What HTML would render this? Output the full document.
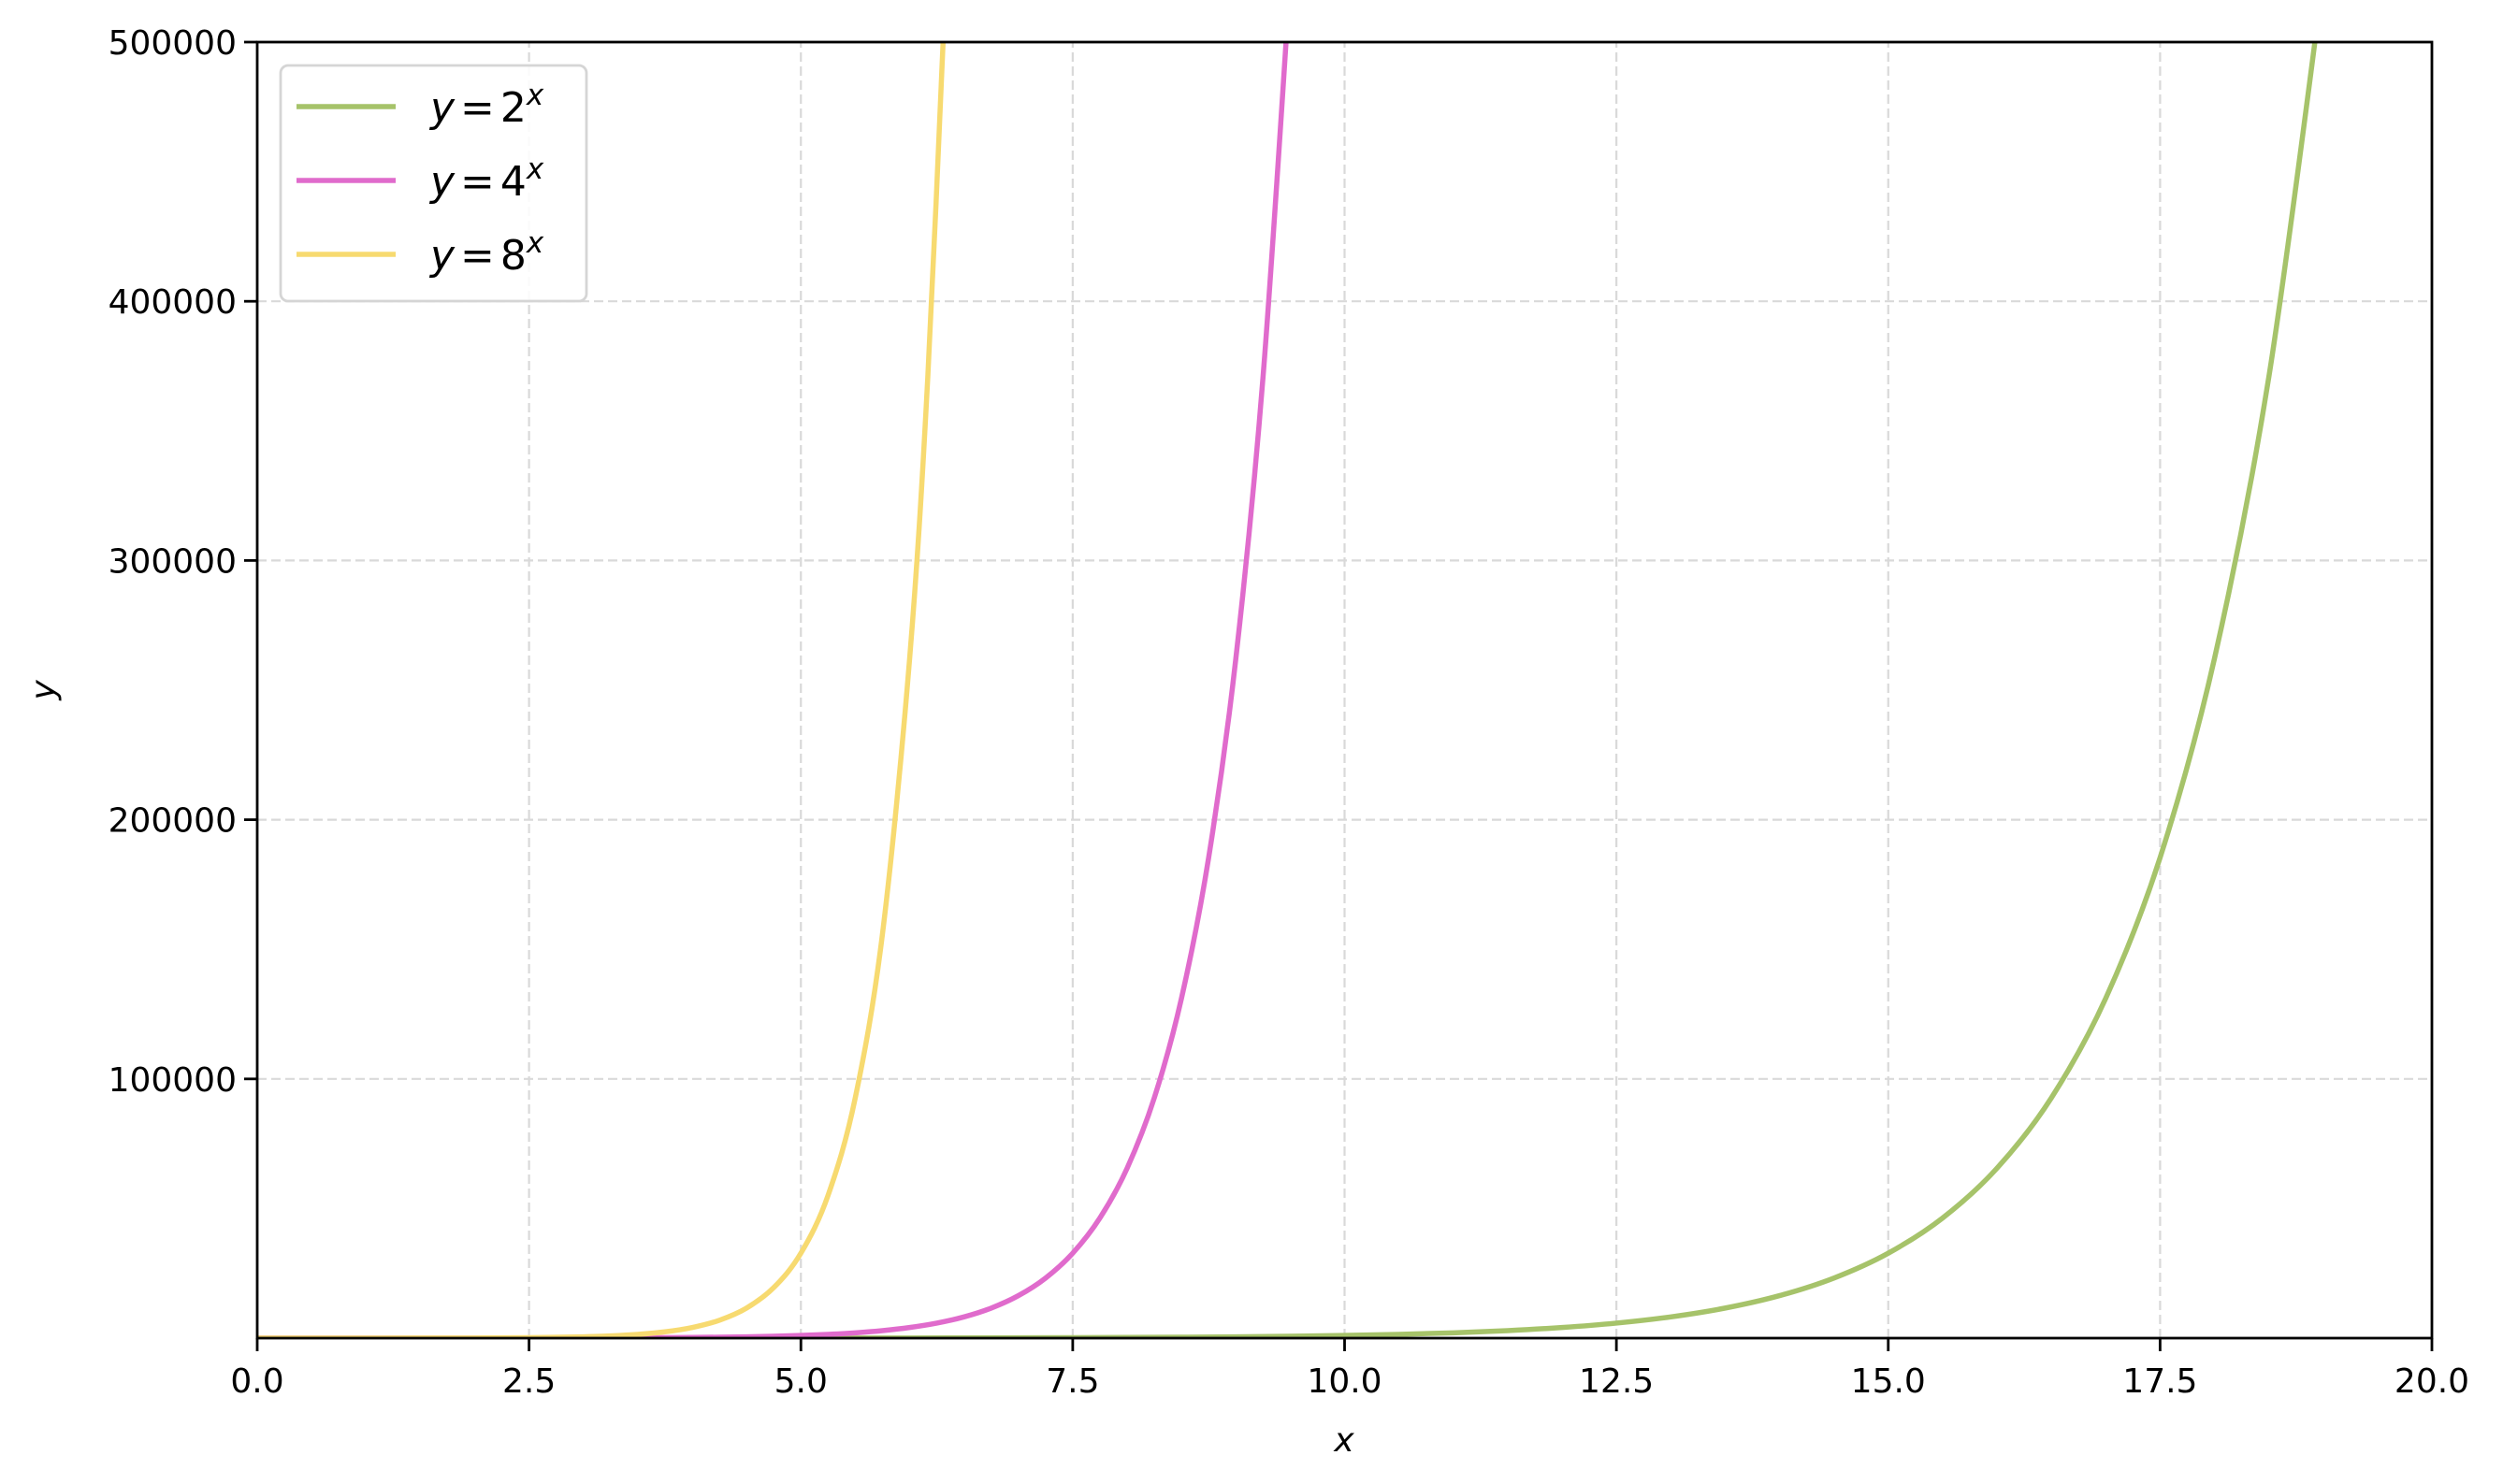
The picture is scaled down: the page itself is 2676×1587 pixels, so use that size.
<!DOCTYPE html>
<html><head><meta charset="utf-8"><style>
html,body{margin:0;padding:0;background:#fff;}
svg{display:block;font-family:"DejaVu Sans","Liberation Sans",sans-serif;}
</style></head><body>
<svg id="chart" width="2676" height="1587" viewBox="0 0 2676 1587" xmlns="http://www.w3.org/2000/svg">
<defs><clipPath id="plotclip"><rect x="275" y="45" width="2325" height="1386"/></clipPath></defs>
<g id="grid"></g>
<g id="series" clip-path="url(#plotclip)"></g>
<rect x="275" y="45" width="2325" height="1386" fill="none" stroke="#000" stroke-width="2.8"/>
<g id="ticks"></g>
<text x="1437" y="1552" font-size="36" font-style="italic" text-anchor="middle">x</text>
<text x="0" y="0" font-size="36" font-style="italic" text-anchor="middle" transform="translate(58,738) rotate(-90)">y</text>
<g id="legend">
<rect x="300" y="70" width="327" height="252" rx="8" fill="#fff" fill-opacity="0.85" stroke="#d5d5d5" stroke-width="2.8"/>
<line x1="317" y1="114" x2="423" y2="114" stroke="#a6c36a" stroke-width="5.5"/>
<text x="460" y="130" font-size="44"><tspan font-style="italic">y</tspan><tspan dx="6">=</tspan><tspan dx="6">2</tspan><tspan font-size="31" dy="-18" font-style="italic">x</tspan></text>
<line x1="317" y1="193" x2="423" y2="193" stroke="#e06bcc" stroke-width="5.5"/>
<text x="460" y="209" font-size="44"><tspan font-style="italic">y</tspan><tspan dx="6">=</tspan><tspan dx="6">4</tspan><tspan font-size="31" dy="-18" font-style="italic">x</tspan></text>
<line x1="317" y1="272" x2="423" y2="272" stroke="#f7da70" stroke-width="5.5"/>
<text x="460" y="288" font-size="44"><tspan font-style="italic">y</tspan><tspan dx="6">=</tspan><tspan dx="6">8</tspan><tspan font-size="31" dy="-18" font-style="italic">x</tspan></text>
</g>
</svg>
<script>
const xTicks = [0, 2.5, 5, 7.5, 10, 12.5, 15, 17.5, 20];
const xTickLabels = ["0.0","2.5","5.0","7.5","10.0","12.5","15.0","17.5","20.0"];
const yTicks = [100000, 200000, 300000, 400000, 500000];
const yTickLabels = ["100000","200000","300000","400000","500000"];
const x2 = [0,0.5,1,1.5,2,2.5,3,3.5,4,4.5,5,5.5,6,6.5,7,7.5,8,8.5,9,9.5,10,10.5,11,11.5,12,12.5,13,13.5,14,14.5,15,15.5,16,16.5,17,17.5,18,18.5,19];
const y2 = [1,1.41,2,2.83,4,5.66,8,11.3,16,22.6,32,45.3,64,90.5,128,181,256,362,512,724,1024,1448,2048,2896,4096,5793,8192,11585,16384,23170,32768,46341,65536,92682,131072,185364,262144,370728,524288];
const x4 = [0,0.25,0.5,0.75,1,1.25,1.5,1.75,2,2.25,2.5,2.75,3,3.25,3.5,3.75,4,4.25,4.5,4.75,5,5.25,5.5,5.75,6,6.25,6.5,6.75,7,7.25,7.5,7.75,8,8.25,8.5,8.75,9,9.25,9.5];
const y4 = [1,1.41,2,2.83,4,5.66,8,11.3,16,22.6,32,45.3,64,90.5,128,181,256,362,512,724,1024,1448,2048,2896,4096,5793,8192,11585,16384,23170,32768,46341,65536,92682,131072,185364,262144,370728,524288];
const x8 = [0,0.5,1,1.5,2,2.5,3,3.25,3.5,3.75,4,4.25,4.5,4.75,5,5.25,5.5,5.75,6,6.167,6.333];
const y8 = [1,2.83,8,22.6,64,181,512,861,1448,2435,4096,6889,11585,19484,32768,55109,92682,155872,262144,370728,524288];
const X0=275,X1=2600,Y0=1431,Y1=45;
const sx=v=>X0+(v-0)/(20-0)*(X1-X0);
const sy=v=>Y0-(v-0)/(500000-0)*(Y0-Y1);
const NS="http://www.w3.org/2000/svg";
const grid=document.getElementById('grid'),ticks=document.getElementById('ticks'),ser=document.getElementById('series');
function mk(t,a,p){const e=document.createElementNS(NS,t);for(const k in a)e.setAttribute(k,a[k]);p.appendChild(e);return e;}
xTicks.forEach((v,i)=>{
  const gl=mk('line',{x1:sx(v),x2:sx(v),y1:Y0,y2:Y1,stroke:'#d9d9d9','stroke-width':2.2,'stroke-dasharray':'10,5'},grid);
  
  
  const tk=mk('line',{x1:sx(v),x2:sx(v),y1:Y0,y2:Y0+14,stroke:'#000','stroke-width':2.8},ticks);
  
  
  const tl=mk('text',{x:sx(v),y:Y0+58,'font-size':36,'text-anchor':'middle'},ticks);
  tl.textContent=xTickLabels[i];
  
  
});
yTicks.forEach((v,i)=>{
  const gl=mk('line',{x1:X0,x2:X1,y1:sy(v),y2:sy(v),stroke:'#d9d9d9','stroke-width':2.2,'stroke-dasharray':'10,5'},grid);
  
  
  const tk=mk('line',{x1:X0-14,x2:X0,y1:sy(v),y2:sy(v),stroke:'#000','stroke-width':2.8},ticks);
  
  
  const tl=mk('text',{x:X0-22,y:sy(v)+13,'font-size':36,'text-anchor':'end'},ticks);
  tl.textContent=yTickLabels[i];
  
  
});
function pathFor(xs,ys){
  const p=xs.map((x,i)=>[sx(x),sy(ys[i])]);
  let d='M'+p[0][0]+','+p[0][1];
  for(let i=0;i<p.length-1;i++){
    const a=p[Math.max(0,i-1)],b=p[i],c=p[i+1],e=p[Math.min(p.length-1,i+2)];
    d+=' C'+(b[0]+(c[0]-a[0])/6)+','+(b[1]+(c[1]-a[1])/6)+' '+(c[0]-(e[0]-b[0])/6)+','+(c[1]-(e[1]-b[1])/6)+' '+c[0]+','+c[1];
  }
  return d;
}
const l2=mk('path',{d:pathFor(x2,y2),fill:'none',stroke:'#a6c36a','stroke-width':5.5},ser);


const l4=mk('path',{d:pathFor(x4,y4),fill:'none',stroke:'#e06bcc','stroke-width':5.5},ser);


const l8=mk('path',{d:pathFor(x8,y8),fill:'none',stroke:'#f7da70','stroke-width':5.5},ser);


</script>
</body></html>
